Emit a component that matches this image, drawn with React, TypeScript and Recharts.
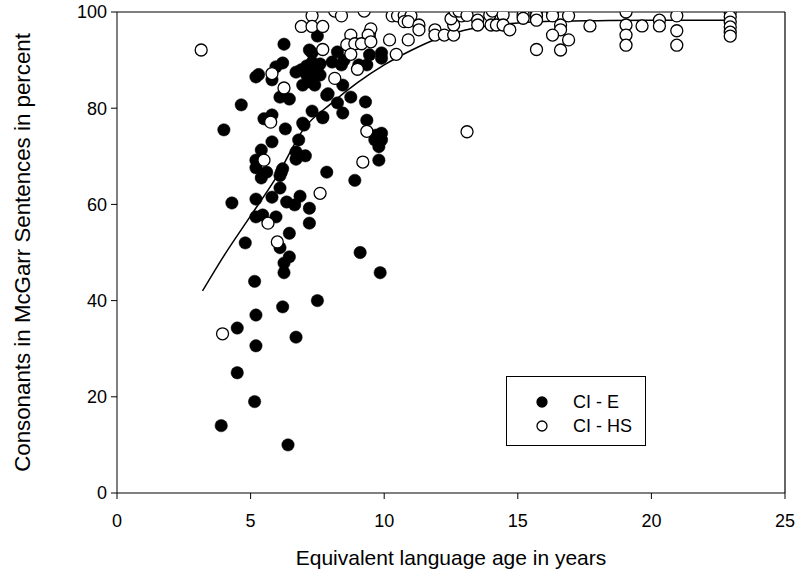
import React from 'react';
import {
  ComposedChart,
  Scatter,
  Line,
  XAxis,
  YAxis,
  ReferenceLine,
  Legend
} from 'recharts';

// CI - E (filled) : [language age, % consonants]
const ciE: [number, number][] = [
  [3.9, 14], [6.4, 10], [5.15, 19], [4.5, 25], [4.5, 34.3], [5.2, 30.6], [5.2, 37], [6.7, 32.4],
  [6.2, 38.7], [7.5, 40], [9.1, 50], [9.85, 45.8], [5.15, 44], [6.25, 45.8], [6.25, 47.8],
  [6.45, 49.1], [6.45, 54], [4.8, 52], [6.1, 51],
  [5.2, 57.4], [5.45, 57.8], [5.95, 57.4], [7.2, 56.1], [4.3, 60.3], [5.2, 61.1], [5.8, 61.5],
  [6.1, 63.4], [6.35, 60.5], [6.65, 59.9], [6.85, 61.7], [7.2, 59.2], [5.2, 67.6], [5.6, 66.7],
  [5.4, 65.5], [6.15, 66.7], [6.1, 66], [6.2, 67.4], [7.85, 66.7], [8.9, 65], [5.2, 69.2],
  [6.7, 70.9], [7.05, 70.1], [6.7, 69.4], [5.4, 71.3], [5.8, 73], [6.8, 73.4], [7.0, 76.5],
  [6.3, 75.7], [5.5, 77.8], [5.8, 78.6], [4.0, 75.5], [4.65, 80.7], [7.3, 79.4], [7.7, 78.2],
  [7.85, 82.7], [6.1, 82.3], [6.45, 81.9],
  [5.3, 87], [5.2, 86.5], [5.8, 85.9], [5.95, 88.6], [6.2, 89.4], [6.25, 93.3], [7.2, 92.1],
  [7.5, 95], [6.7, 87.5], [6.9, 88], [7.1, 88.8], [7.3, 87.5], [7.45, 86.9], [7.6, 86.9],
  [7.1, 86.9], [7.4, 84.8], [6.95, 84.8], [7.2, 85.5], [7.3, 89.5], [7.3, 91.5], [7.5, 88.4],
  [7.6, 89.2], [8.25, 91.7], [8.05, 89.6], [8.4, 89], [8.5, 90], [9.45, 94.6], [9.45, 91.1],
  [9.9, 91.5], [9.9, 90.4], [9.05, 89], [9.35, 89], [8.45, 84.8], [7.9, 83], [8.75, 82.3],
  [9.3, 81.3], [8.25, 81.1], [8.45, 79], [7.7, 78], [6.95, 76.9], [9.35, 77.5], [9.7, 74.4],
  [9.9, 74.8], [9.65, 73.4], [9.9, 73.4], [9.8, 72], [9.8, 69.2]
];

// CI - HS (open)
const ciHS: [number, number][] = [
  [3.15, 92.1], [3.95, 33.1], [5.75, 77.1], [5.5, 69.2], [5.65, 56.1], [6.0, 52.2], [7.6, 62.3],
  [5.8, 87.2], [6.25, 84.2], [9.35, 75.2], [9.2, 68.8], [13.1, 75.1],
  [7.3, 99.2], [6.9, 97], [7.3, 97], [7.7, 97], [7.7, 92.2], [8.15, 100.2], [8.4, 99.2],
  [9.25, 100.2], [8.75, 95.2], [9.45, 95.6], [9.5, 96.5], [9.4, 95.2], [10.2, 94.2], [10.9, 94.2],
  [8.6, 93.2], [8.9, 93.4], [9.15, 93.4], [9.5, 93.8], [8.75, 91.2], [10.45, 91.2], [9.0, 88.1],
  [8.15, 86.2],
  [10.3, 99.2], [10.5, 99.2], [10.75, 99.3], [11.0, 99.2], [10.75, 98], [10.9, 98], [11.3, 97.3],
  [11.3, 96.3], [11.9, 96.3], [11.9, 95.2], [12.25, 95.2], [12.6, 95.2], [12.6, 97.3],
  [12.5, 98.6], [12.9, 99.2], [12.65, 100.2], [12.8, 100.2], [13.1, 99.3], [13.5, 98.3],
  [13.5, 97.3], [13.95, 99.3], [14.05, 100.2], [14.0, 97.3], [14.2, 97.3], [14.45, 99.4],
  [14.45, 97.3], [14.7, 96.3], [15.2, 99.4], [15.2, 98.7], [15.7, 100.2], [15.7, 99.2],
  [15.7, 98.3], [15.7, 92.2], [16.3, 100.2], [16.3, 99.2], [16.6, 97.3], [16.6, 96.3],
  [16.3, 95.2], [16.9, 99.2], [16.9, 94.2], [16.6, 92.1], [17.7, 97.1], [19.05, 100],
  [19.05, 97.3], [19.05, 95.2], [19.05, 93.1], [19.65, 97.1], [20.3, 98.3], [20.3, 97.1],
  [20.95, 99.2], [20.95, 96.1], [20.95, 93.1], [22.95, 100], [22.95, 99], [22.95, 97.9],
  [22.95, 96.9], [22.95, 95.8], [22.95, 95]
];

// fitted curve
const fitX = [3.2, 4, 5, 6, 7, 8, 9, 10, 11, 12, 13, 14, 15, 16, 18, 20, 23];
const fitY = [42, 49.3, 57.6, 66, 75.8, 80.9, 85.3, 89, 92, 94.5, 96.2, 97.2, 97.7, 98, 98.2, 98.3, 98.3];

const xTicks = [0, 5, 10, 15, 20, 25];
const yTicks = [0, 20, 40, 60, 80, 100];

const FONT = '"Liberation Sans", Arial, sans-serif';

const eData = ciE.map(([x, y]) => ({ x, y }));
const hsData = ciHS.map(([x, y]) => ({ x, y }));
const fitData = fitX.map((x, i) => ({ x, y: fitY[i] }));

// eslint-disable-next-line @typescript-eslint/no-explicit-any
const FilledDot = (props: any) => (
  <circle cx={props.cx} cy={props.cy} r={6.2} fill="#000" stroke="#000" strokeWidth={0.5} />
);

// eslint-disable-next-line @typescript-eslint/no-explicit-any
const OpenDot = (props: any) => (
  <circle cx={props.cx} cy={props.cy} r={6} fill="#fff" stroke="#000" strokeWidth={1.3} />
);

// eslint-disable-next-line @typescript-eslint/no-explicit-any
const LegendBox = ({ payload }: any) => (
  <div
    style={{
      width: 140,
      height: 70,
      border: '1.5px solid #000',
      background: '#fff',
      fontFamily: FONT,
      fontSize: 18,
      paddingTop: 13,
      boxSizing: 'border-box'
    }}
  >
    {/* eslint-disable-next-line @typescript-eslint/no-explicit-any */}
    {(payload || []).filter((p: any) => p.type !== 'none').map((entry: any, i: number) => (
      <div key={i} style={{ display: 'flex', alignItems: 'center', height: 24 }}>
        <svg width={66} height={24}>
          <circle cx={35} cy={12} r={5} fill={entry.color} stroke="#000" strokeWidth={1.3} />
        </svg>
        <span style={{ color: '#000' }}>{entry.value}</span>
      </div>
    ))}
  </div>
);

export default function App() {
  return (
    <div style={{ position: 'absolute', left: 0, top: 0, background: '#fff' }}>
      <ComposedChart
        width={800}
        height={578}
        margin={{ top: 12, right: 15, bottom: 0, left: 0 }}
      >
        <XAxis
          type="number"
          dataKey="x"
          domain={[0, 25]}
          ticks={xTicks}
          height={85}
          stroke="#000"
          tickLine={{ stroke: '#000' }}
          tickSize={6}
          tickMargin={15}
          tick={{ fill: '#000', fontSize: 18, fontFamily: FONT }}
          allowDataOverflow
          label={{
            // eslint-disable-next-line @typescript-eslint/no-explicit-any
            content: ({ viewBox }: any) => (
              <text
                x={viewBox.x + viewBox.width / 2}
                y={viewBox.y + 64}
                textAnchor="middle"
                dominantBaseline="central"
                fontSize={21}
                fontFamily={FONT}
                fill="#000"
              >
                Equivalent language age in years
              </text>
            )
          }}
        />
        <YAxis
          type="number"
          dataKey="y"
          domain={[0, 100]}
          ticks={yTicks}
          width={117}
          stroke="#000"
          tickLine={{ stroke: '#000' }}
          tickSize={6}
          tickMargin={4}
          tick={{ fill: '#000', fontSize: 18, fontFamily: FONT }}
          allowDataOverflow
          label={{
            // eslint-disable-next-line @typescript-eslint/no-explicit-any
            content: ({ viewBox }: any) => {
              const cx = viewBox.x + 22;
              const cy = viewBox.y + viewBox.height / 2;
              return (
                <text
                  x={cx}
                  y={cy}
                  transform={`rotate(-90 ${cx} ${cy})`}
                  textAnchor="middle"
                  dominantBaseline="central"
                  fontSize={22.3}
                  fontFamily={FONT}
                  fill="#000"
                >
                  Consonants in McGarr Sentences in percent
                </text>
              );
            }
          }}
        />
        <ReferenceLine y={100} stroke="#000" strokeWidth={1.2} />
        <ReferenceLine x={25} stroke="#000" strokeWidth={1.2} />
        <Scatter
          name="CI - E"
          data={eData}
          fill="#000"
          shape={FilledDot}
          isAnimationActive={false}
        />
        <Scatter
          name="CI - HS"
          data={hsData}
          fill="#fff"
          shape={OpenDot}
          isAnimationActive={false}
        />
        <Line
          data={fitData}
          dataKey="y"
          type="monotone"
          stroke="#000"
          strokeWidth={1.5}
          dot={false}
          legendType="none"
          isAnimationActive={false}
        />
        <Legend
          layout="horizontal"
          verticalAlign="middle"
          align="center"
          content={LegendBox}
          wrapperStyle={{ position: 'absolute', left: 506, top: 376, width: 140, height: 70 }}
        />
      </ComposedChart>
    </div>
  );
}
